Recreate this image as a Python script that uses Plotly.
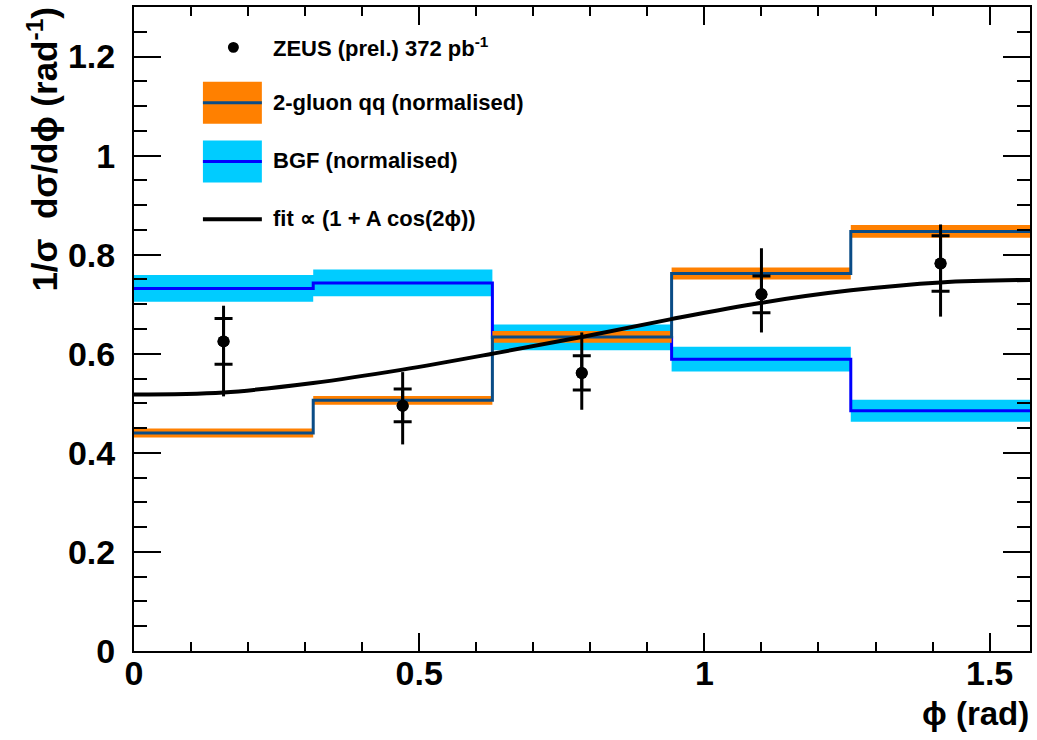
import plotly.graph_objects as go

# ---------------- data ----------------
bin_edges = [0.0, 0.3142, 0.6283, 0.9425, 1.2566, 1.5708]

qq_values = [0.440, 0.506, 0.634, 0.762, 0.847]     # 2-gluon qq (normalised)
qq_errors = [0.009, 0.009, 0.012, 0.012, 0.013]

bgf_values = [0.732, 0.743, 0.633, 0.589, 0.485]    # BGF (normalised)
bgf_errors = [0.027, 0.027, 0.026, 0.025, 0.022]

data_x = [0.157, 0.471, 0.785, 1.100, 1.414]
data_y = [0.625, 0.495, 0.561, 0.720, 0.782]
stat_up = [0.046, 0.034, 0.035, 0.037, 0.056]
stat_dn = [0.046, 0.032, 0.034, 0.037, 0.056]
tot_up = [0.072, 0.068, 0.082, 0.093, 0.079]
tot_dn = [0.111, 0.078, 0.074, 0.077, 0.107]

fit_x = [0.0, 0.157, 0.314, 0.471, 0.628, 0.785, 0.942, 1.100, 1.257, 1.414, 1.571]
fit_y = [0.518, 0.522, 0.541, 0.568, 0.600, 0.634, 0.670, 0.703, 0.728, 0.744, 0.749]

x_ticks = [0, 0.5, 1, 1.5]
y_ticks = [0, 0.2, 0.4, 0.6, 0.8, 1, 1.2]

ORANGE = "#FF8000"
CYAN = "#00CCFF"
BLUE = "#0000FF"
DARKBLUE = "#0A4C86"
FONT = "Liberation Sans"
PHI = "ϕ"

# ---------------- helpers ----------------
def band_polygon(edges, vals, errs):
    xs, ys = [], []
    for i, (v, e) in enumerate(zip(vals, errs)):
        lo, hi = edges[i], edges[i + 1]
        xs += [lo, hi, hi, lo, lo, None]
        ys += [v - e, v - e, v + e, v + e, v - e, None]
    return xs, ys


def step(edges, vals):
    return list(edges), list(vals) + [vals[-1]]


fig = go.Figure()

# BGF band + line
bx, by = band_polygon(bin_edges, bgf_values, bgf_errors)
fig.add_trace(go.Scatter(x=bx, y=by, fill="toself", fillcolor=CYAN, mode="none",
                         hoverinfo="skip", showlegend=False))
sx, sy = step(bin_edges, bgf_values)
fig.add_trace(go.Scatter(x=sx, y=sy, mode="lines", line=dict(color=BLUE, width=3, shape="hv"),
                         showlegend=False))

# 2-gluon qq band + line
ox, oy = band_polygon(bin_edges, qq_values, qq_errors)
fig.add_trace(go.Scatter(x=ox, y=oy, fill="toself", fillcolor=ORANGE, mode="none",
                         hoverinfo="skip", showlegend=False))
sx, sy = step(bin_edges, qq_values)
fig.add_trace(go.Scatter(x=sx, y=sy, mode="lines", line=dict(color=DARKBLUE, width=3, shape="hv"),
                         showlegend=False))

# fit curve
fig.add_trace(go.Scatter(x=fit_x, y=fit_y, mode="lines",
                         line=dict(color="black", width=4, shape="spline", smoothing=1.0),
                         showlegend=False))

# data: total errors (no caps)
fig.add_trace(go.Scatter(x=data_x, y=data_y, mode="markers",
                         marker=dict(color="black", size=12),
                         error_y=dict(type="data", symmetric=False, array=tot_up, arrayminus=tot_dn,
                                      color="black", thickness=3, width=0),
                         showlegend=False))
# data: statistical errors (with caps)
fig.add_trace(go.Scatter(x=data_x, y=data_y, mode="markers",
                         marker=dict(color="black", size=12),
                         error_y=dict(type="data", symmetric=False, array=stat_up, arrayminus=stat_dn,
                                      color="black", thickness=3, width=9),
                         showlegend=False))

# ---------------- layout ----------------
L, R, T, B = 134, 1031, 5, 651
W, H = 1037, 740


def px(x):
    return (x - L) / (R - L)


def py(y):
    return (B - y) / (B - T)


shapes = [
    # legend: orange box + line
    dict(type="rect", xref="paper", yref="paper", x0=px(203), x1=px(262), y0=py(122), y1=py(80),
         fillcolor=ORANGE, line=dict(width=0), layer="above"),
    dict(type="line", xref="paper", yref="paper", x0=px(203), x1=px(262), y0=py(101), y1=py(101),
         line=dict(color=DARKBLUE, width=3), layer="above"),
    # legend: cyan box + line
    dict(type="rect", xref="paper", yref="paper", x0=px(203), x1=px(262), y0=py(181), y1=py(139),
         fillcolor=CYAN, line=dict(width=0), layer="above"),
    dict(type="line", xref="paper", yref="paper", x0=px(203), x1=px(262), y0=py(160), y1=py(160),
         line=dict(color=BLUE, width=3), layer="above"),
    # legend: fit line
    dict(type="line", xref="paper", yref="paper", x0=px(203), x1=px(262), y0=py(218), y1=py(218),
         line=dict(color="black", width=4), layer="above"),
    # legend: marker
    dict(type="circle", xref="paper", yref="paper", x0=px(228), x1=px(239), y0=py(51), y1=py(40),
         fillcolor="black", line=dict(width=0), layer="above"),
]

leg_font = dict(family=FONT, size=22, color="black")
annotations = [
    dict(text="<b>ZEUS (prel.) 372 pb<sup>-1</sup></b>", x=px(271), y=py(45)),
    dict(text="<b>2-gluon qq (normalised)</b>", x=px(271), y=py(101)),
    dict(text="<b>BGF (normalised)</b>", x=px(271), y=py(159)),
    dict(text=f"<b>fit ∝ (1 + A cos(2{PHI}))</b>", x=px(271), y=py(217)),
]
for a in annotations:
    a.update(xref="paper", yref="paper", xanchor="left", yanchor="middle", showarrow=False,
             font=leg_font)

annotations.append(dict(text=f"<b>{PHI} (rad)</b>", xref="paper", yref="paper", x=px(1032), y=py(714),
                        xanchor="right", yanchor="middle", showarrow=False,
                        font=dict(family=FONT, size=33, color="black")))
annotations.append(dict(text=f"<b>1/σ  dσ/d{PHI} (rad<sup>-1</sup>)</b>", xref="paper", yref="paper",
                        x=px(42), y=py(3), xanchor="center", yanchor="top", textangle=-90,
                        showarrow=False, font=dict(family=FONT, size=35, color="black")))

axis_common = dict(showgrid=False, zeroline=False, showline=True, linecolor="black", linewidth=2,
                   mirror="ticks", ticks="inside", tickcolor="black", tickwidth=2,
                   tickfont=dict(family=FONT, size=34, color="black"))

fig.update_layout(
    width=W, height=H,
    margin=dict(l=L, r=W - R, t=T, b=H - B, pad=0),
    paper_bgcolor="white", plot_bgcolor="white",
    shapes=shapes, annotations=annotations,
    xaxis=dict(range=[0, bin_edges[-1]], tickvals=x_ticks, ticktext=[f"<b>{v:g}</b>" for v in x_ticks],
               ticklen=18, ticklabelstandoff=-9,
               minor=dict(dtick=0.1, tick0=0, ticks="inside", ticklen=9, tickwidth=2, tickcolor="black"),
               **axis_common),
    yaxis=dict(range=[0, 1.3], tickvals=y_ticks, ticktext=[f"<b>{v:g}</b>" for v in y_ticks],
               ticklen=27, ticklabelstandoff=10,
               minor=dict(dtick=0.05, tick0=0, ticks="inside", ticklen=13, tickwidth=2, tickcolor="black"),
               **axis_common),
)

fig.write_html("out.html", config={"displayModeBar": False},
               post_script="document.body.style.margin='0';document.body.style.padding='0';"
                           "document.body.style.overflow='hidden';")
